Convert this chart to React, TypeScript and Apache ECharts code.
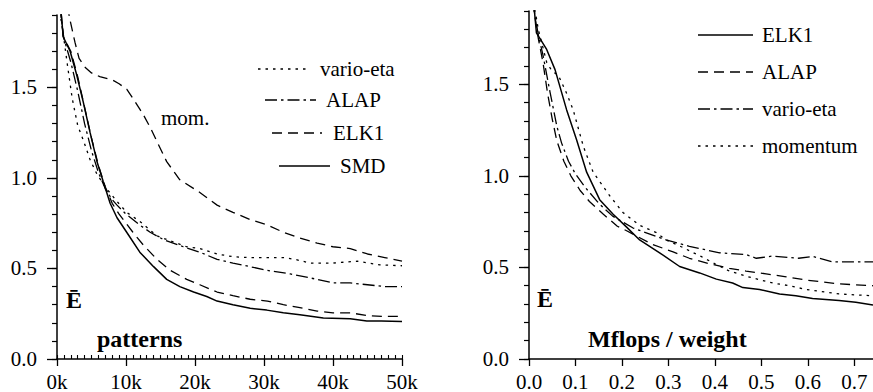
import React, { useEffect, useRef } from "react";
import * as echarts from "echarts";

// ---------- data: left panel (x in thousands of patterns) ----------
const leftXTicks = [0, 10, 20, 30, 40, 50];
const leftYTicks = [0, 0.5, 1.0, 1.5];
const leftVario: number[][] = [[0.4,1.92],[1.06,1.75],[1.6,1.60],[2.2,1.44],[3.0,1.29],[3.8,1.21],[4.8,1.10],[5.8,1.02],[7.2,0.94],[8.7,0.87],[10.1,0.81],[12,0.76],[14.5,0.68],[15.9,0.66],[18.8,0.62],[20.7,0.61],[23.2,0.58],[25.5,0.565],[28,0.56],[30.5,0.56],[32.8,0.56],[34.5,0.55],[36.7,0.53],[40,0.53],[43.5,0.54],[46.8,0.52],[50,0.515]];
const leftALAP: number[][] = [[0.4,1.95],[1,1.77],[2,1.64],[3,1.48],[4,1.30],[5,1.15],[6,1.03],[7,0.94],[8,0.88],[8.7,0.85],[10,0.80],[11,0.77],[12,0.74],[13.5,0.70],[15.4,0.66],[18.3,0.62],[20.7,0.59],[23.2,0.55],[25.5,0.53],[28,0.51],[30.4,0.49],[33.8,0.47],[37.7,0.44],[40,0.42],[42.5,0.42],[45,0.41],[47.5,0.40],[50,0.40]];
const leftELK1: number[][] = [[0.4,2.0],[0.9,1.78],[2,1.70],[3,1.56],[4,1.39],[5,1.22],[6,1.07],[7,0.95],[8,0.86],[9,0.80],[10,0.75],[11,0.70],[12.5,0.63],[14.5,0.55],[16.4,0.49],[18.8,0.44],[20.7,0.41],[23.2,0.37],[25.5,0.35],[28,0.33],[30.5,0.32],[32.8,0.30],[35,0.285],[37.7,0.265],[40,0.255],[42.5,0.255],[45,0.24],[47.5,0.235],[50,0.235]];
const leftSMD: number[][] = [[0.4,2.0],[0.9,1.78],[1.9,1.70],[2.85,1.57],[3.8,1.42],[4.8,1.25],[5.8,1.09],[6.7,0.98],[7.7,0.86],[8.7,0.78],[10.1,0.70],[12,0.59],[14,0.51],[15.9,0.44],[17.8,0.40],[19.8,0.37],[21.7,0.345],[23.2,0.32],[25.5,0.30],[28,0.28],[30.4,0.27],[32.8,0.255],[35.2,0.245],[38.6,0.227],[42.5,0.222],[44.9,0.21],[47,0.21],[50,0.207]];
const leftMom: number[][] = [[1.5,1.95],[1.9,1.87],[2.6,1.75],[3.2,1.66],[4.1,1.61],[5,1.58],[6.2,1.56],[8.1,1.54],[9,1.52],[10.1,1.49],[11,1.44],[12,1.38],[12.5,1.35],[13.5,1.28],[14.5,1.20],[15.9,1.09],[17.8,0.99],[20.7,0.92],[23.2,0.85],[25.5,0.81],[28,0.77],[30.5,0.74],[32.8,0.70],[35,0.67],[37.7,0.64],[40,0.62],[42.5,0.61],[45,0.58],[47.5,0.56],[50,0.54]];

// ---------- data: right panel (x in Mflops / weight) ----------
const rightXTicks = [0, 0.1, 0.2, 0.3, 0.4, 0.5, 0.6, 0.7];
const rightYTicks = [0, 0.5, 1.0, 1.5];
const rightELK1: number[][] = [[0.008,2.0],[0.016,1.78],[0.038,1.69],[0.056,1.58],[0.081,1.36],[0.102,1.20],[0.124,1.02],[0.152,0.87],[0.181,0.79],[0.21,0.72],[0.238,0.65],[0.281,0.58],[0.324,0.505],[0.367,0.47],[0.403,0.436],[0.438,0.415],[0.46,0.39],[0.496,0.38],[0.539,0.355],[0.574,0.345],[0.61,0.33],[0.667,0.32],[0.703,0.31],[0.74,0.295]];
const rightALAP: number[][] = [[0.008,1.95],[0.02,1.75],[0.03,1.62],[0.04,1.45],[0.05,1.31],[0.06,1.19],[0.075,1.08],[0.09,1.00],[0.11,0.92],[0.13,0.86],[0.16,0.79],[0.19,0.725],[0.21,0.70],[0.266,0.625],[0.31,0.585],[0.345,0.55],[0.388,0.52],[0.431,0.495],[0.467,0.48],[0.51,0.465],[0.55,0.45],[0.60,0.43],[0.667,0.41],[0.74,0.40]];
const rightVario: number[][] = [[0.008,1.95],[0.02,1.77],[0.03,1.66],[0.045,1.46],[0.06,1.27],[0.07,1.18],[0.085,1.08],[0.10,1.01],[0.12,0.94],[0.15,0.85],[0.18,0.78],[0.224,0.715],[0.295,0.65],[0.345,0.615],[0.41,0.58],[0.467,0.57],[0.489,0.55],[0.524,0.562],[0.58,0.55],[0.61,0.56],[0.653,0.53],[0.70,0.53],[0.74,0.53]];
const rightMom: number[][] = [[0.01,1.95],[0.02,1.80],[0.038,1.62],[0.05,1.57],[0.063,1.55],[0.081,1.45],[0.095,1.36],[0.117,1.16],[0.138,1.02],[0.174,0.89],[0.202,0.80],[0.238,0.73],[0.274,0.69],[0.295,0.65],[0.33,0.61],[0.37,0.56],[0.40,0.52],[0.431,0.48],[0.47,0.45],[0.524,0.415],[0.56,0.40],[0.596,0.38],[0.667,0.355],[0.74,0.345]];

const FONT = "Liberation Serif";
const DOT = [2.5, 5];
const DASH = [10, 6];
const DASHDOT = [12, 4, 2.5, 4];

export default function App() {
  const ref = useRef<HTMLDivElement>(null);
  useEffect(() => {
    document.body.style.margin = "0";
    if (!ref.current) return;
    const chart = echarts.init(ref.current, null, { renderer: "svg" });

    const axisLine = { show: true, lineStyle: { color: "#000", width: 1.5 } };
    const lbl = { color: "#000", fontSize: 21, fontFamily: FONT };

    const yMain = (gi: number, ticks: number[]) => ({
      type: "value", gridIndex: gi, min: 0, max: 1.9, interval: 0.5,
      axisLine, splitLine: { show: false },
      axisTick: { show: true, length: 10, lineStyle: { color: "#000", width: 1.3 }, customValues: ticks },
      axisLabel: { ...lbl, margin: 20, customValues: ticks, formatter: (v: number) => v.toFixed(1) },
    });
    const yMinor = (gi: number) => ({
      type: "value", gridIndex: gi, min: 0, max: 1.9, interval: 0.1, position: "left",
      axisLine: { show: false }, splitLine: { show: false }, axisLabel: { show: false },
      axisTick: { show: true, length: 5, lineStyle: { color: "#000", width: 1.2 } },
    });

    const line = (data: number[][], dash: any, xi: number, w = 1.3) => ({
      type: "line", data, xAxisIndex: xi, yAxisIndex: xi === 2 ? 2 : 0,
      symbol: "none", clip: true, silent: true,
      lineStyle: { color: "#000", width: w, type: dash },
    });

    const legLine = (x1: number, x2: number, y: number, dash: any, w = 1.3) => ({
      type: "line", shape: { x1, y1: y, x2, y2: y },
      style: { stroke: "#000", lineWidth: w, lineDash: dash },
    });
    const txt = (x: number, y: number, text: string, bold = false, size = 21) => ({
      type: "text", x, y,
      style: { text, fill: "#000", fontFamily: FONT, fontSize: size, fontWeight: bold ? "bold" : "normal", verticalAlign: "middle", align: "left" },
    });

    chart.setOption({
      animation: false,
      backgroundColor: "#fff",
      textStyle: { fontFamily: FONT },
      grid: [
        { left: 57, top: 15, width: 345, height: 344 },
        { left: 529, top: 11, width: 345, height: 348 },
      ],
      xAxis: [
        {
          type: "value", gridIndex: 0, min: 0, max: 50, interval: 10,
          axisLine, splitLine: { show: false },
          axisTick: { show: true, length: 7, lineStyle: { color: "#000", width: 1.3 } },
          axisLabel: { ...lbl, margin: 12, customValues: leftXTicks, formatter: (v: number) => `${v}k` },
        },
        {
          type: "value", gridIndex: 0, min: 0, max: 50, interval: 1, position: "bottom",
          axisLine: { show: false }, splitLine: { show: false }, axisLabel: { show: false },
          axisTick: { show: true, inside: true, length: 4, lineStyle: { color: "#000", width: 1.1 } },
        },
        {
          type: "value", gridIndex: 1, min: 0, max: 0.74, interval: 0.1,
          axisLine, splitLine: { show: false },
          axisTick: { show: true, length: 7, lineStyle: { color: "#000", width: 1.3 }, customValues: rightXTicks },
          axisLabel: { ...lbl, margin: 12, customValues: rightXTicks, formatter: (v: number) => v.toFixed(1) },
        },
      ],
      yAxis: [yMain(0, leftYTicks), yMinor(0), yMain(1, rightYTicks), yMinor(1)],
      series: [
        line(leftVario, DOT, 0),
        line(leftALAP, DASHDOT, 0),
        line(leftELK1, DASH, 0),
        line(leftSMD, "solid", 0, 1.5),
        line(leftMom, DASH, 0),
        line(rightELK1, "solid", 2, 1.5),
        line(rightALAP, DASH, 2),
        line(rightVario, DASHDOT, 2),
        line(rightMom, DOT, 2),
      ],
      graphic: [
        legLine(258, 310, 69, DOT), txt(320, 69, "vario-eta"),
        legLine(265, 316, 100, DASHDOT), txt(326, 100, "ALAP"),
        legLine(272, 322, 133, DASH), txt(333, 133, "ELK1"),
        legLine(279, 330, 166, null, 1.5), txt(340, 166, "SMD"),
        txt(161, 118, "mom."),
        txt(66, 300, "Ē", true, 24),
        txt(97, 339, "patterns", true, 24),
        legLine(698, 753, 35, null, 1.5), txt(762, 35, "ELK1"),
        legLine(698, 753, 72, DASH), txt(762, 72, "ALAP"),
        legLine(698, 753, 109, DASHDOT), txt(762, 109, "vario-eta"),
        legLine(698, 753, 146, DOT), txt(762, 146, "momentum"),
        txt(537, 299, "Ē", true, 24),
        txt(588, 339, "Mflops / weight", true, 24),
      ],
    });
    return () => chart.dispose();
  }, []);
  return <div ref={ref} style={{ width: 873, height: 392, background: "#fff" }} />;
}
